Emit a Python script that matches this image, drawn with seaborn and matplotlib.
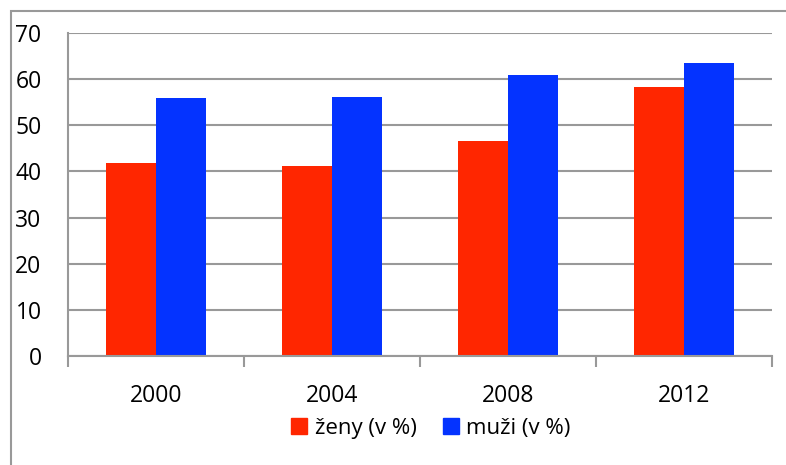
import pandas as pd
import matplotlib.pyplot as plt
import seaborn as sns
from matplotlib.patches import Rectangle

# data
roky = ['2000', '2004', '2008', '2012']
zeny = [41.8, 41.2, 46.7, 58.3]
muzi = [55.9, 56.1, 61.0, 63.4]
serie = ['ženy (v %)', 'muži (v %)']
barvy = ['#FF2600', '#0433FF']

df = pd.DataFrame({
    'rok': roky * 2,
    'hodnota': zeny + muzi,
    'skupina': [serie[0]] * len(roky) + [serie[1]] * len(roky),
})

sns.set_style('white')
plt.rcParams['font.family'] = ['Open Sans', 'DejaVu Sans']
plt.rcParams['text.color'] = 'black'

fig = plt.figure(figsize=(7.86, 4.65), dpi=100)
ax = fig.add_axes([68 / 786, 1 - 356 / 465, (772 - 68) / 786, (356 - 33) / 465])

sns.barplot(data=df, x='rok', y='hodnota', hue='skupina', palette=barvy,
            width=0.57, saturation=1, linewidth=0, ax=ax, legend=False)

ax.set_xlim(-0.5, 3.5)
ax.set_ylim(0, 70)
ax.set_yticks(range(0, 71, 10))
ax.yaxis.grid(True, color='#999999', linewidth=1.5)
ax.set_axisbelow(True)
ax.set_xlabel('')
ax.set_ylabel('')

for s in ['top', 'right']:
    ax.spines[s].set_visible(False)
for s in ['left', 'bottom']:
    ax.spines[s].set_color('#999999')
    ax.spines[s].set_linewidth(1.5)

ax.tick_params(axis='y', length=8, width=1.5, color='#999999', labelcolor='black',
               labelsize=16.5, pad=11)
ax.tick_params(axis='x', which='major', length=0, labelcolor='black', labelsize=16.5, pad=20)
ax.set_xticks([-0.5, 0.5, 1.5, 2.5, 3.5], minor=True)
ax.tick_params(axis='x', which='minor', length=8, width=1.5, color='#999999', bottom=True)

# legend below the axis
handles = [Rectangle((0, 0), 1, 1, color=c) for c in barvy]
fig.legend(handles, serie, loc='center', bbox_to_anchor=(431 / 786, 1 - 428 / 465),
           ncol=2, frameon=False, fontsize=16, handlelength=0.7, handleheight=0.7,
           handletextpad=0.35, columnspacing=1.2, labelcolor='black')

# outer chart frame
fig.patches.append(Rectangle((11 / 786, -0.1), 1.2, 1 - 11 / 465 + 0.1,
                             transform=fig.transFigure, fill=False,
                             edgecolor='#999999', linewidth=1.5))

fig.savefig('out.png', dpi=100)
